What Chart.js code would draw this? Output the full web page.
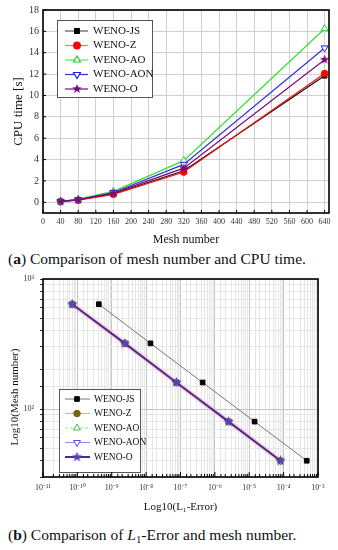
<!DOCTYPE html>
<html><head><meta charset="utf-8">
<script src="https://cdn.jsdelivr.net/npm/chart.js@4/dist/chart.umd.min.js"></script>
<style>
html,body{margin:0;padding:0;background:#fff;}
body{width:338px;height:550px;position:relative;overflow:hidden;font-family:"Liberation Serif",serif;}
canvas{position:absolute;left:0;}
#c1{top:0;}
#c2{top:268px;}
.cap{position:absolute;left:8px;font-size:15.5px;line-height:17px;color:#111;white-space:nowrap;}
.cap sub{font-size:0.7em;line-height:0;vertical-align:-0.3em;}
</style></head><body>
<canvas id="c1" width="338" height="248"></canvas>
<div class="cap" style="top:250px">(<b>a</b>) Comparison of mesh number and CPU time.</div>
<canvas id="c2" width="338" height="250"></canvas>
<div class="cap" style="top:526px">(<b>b</b>) Comparison of <i>L</i><sub>1</sub>-Error and mesh number.</div>
<script>
// ---------- data ----------
const schemes = ["WENO-JS", "WENO-Z", "WENO-AO", "WENO-AON", "WENO-O"];
const meshNumbers = [40, 80, 160, 320, 640];
const cpuJS  = [0.08, 0.22, 0.80, 2.95, 11.85];
const cpuZ   = [0.07, 0.20, 0.75, 2.83, 12.05];
const cpuAO  = [0.10, 0.30, 1.03, 3.90, 16.25];
const cpuAON = [0.09, 0.26, 0.92, 3.55, 14.45];
const cpuO   = [0.08, 0.24, 0.86, 3.20, 13.35];

const meshDesc = [640, 320, 160, 80, 40];
const errJS  = [4.2e-10, 1.34e-8, 4.4e-7, 1.43e-5, 4.7e-4];
const errZ   = [7.1e-11, 2.4e-9, 7.6e-8, 2.5e-6, 8.1e-5];
const errAO  = [7.1e-11, 2.4e-9, 7.6e-8, 2.5e-6, 8.1e-5];
const errAON = [7.1e-11, 2.4e-9, 7.6e-8, 2.5e-6, 8.1e-5];
const errO   = [7.1e-11, 2.4e-9, 7.6e-8, 2.5e-6, 8.1e-5];

const cpuTicks = {min: -1, max: 18, step: 2};
const meshTicks = {min: 0, max: 650, step: 40};
const supDigits = {"0":"⁰","1":"¹","2":"²","3":"³","4":"⁴","5":"⁵","6":"⁶","7":"⁷","8":"⁸","9":"⁹","-":"⁻"};

// ---------- helpers ----------
function starImage(color, size) {
  const c = document.createElement('canvas');
  c.width = size; c.height = size;
  const g = c.getContext('2d');
  const cx = size / 2, cy = size / 2, R = size / 2, r = R * 0.42;
  g.beginPath();
  for (let i = 0; i < 10; i++) {
    const a = -Math.PI / 2 + i * Math.PI / 5;
    const rr = i % 2 ? r : R;
    g.lineTo(cx + rr * Math.cos(a), cy + rr * Math.sin(a));
  }
  g.closePath(); g.fillStyle = color; g.fill();
  return c;
}
const pts = (xs, ys) => xs.map((x, i) => ({x: x, y: ys[i]}));
const isPow10 = v => Math.abs(Math.log10(v) - Math.round(Math.log10(v))) < 1e-6;
const powLabel = v => "10" + String(Math.round(Math.log10(v))).split("").map(ch => supDigits[ch]).join("");
const serif = '"Liberation Serif", "Times New Roman", serif';

const framePlugin = {
  id: 'frame',
  afterDraw(chart, args, o) {
    const a = chart.chartArea, ctx = chart.ctx;
    ctx.save();
    ctx.strokeStyle = '#000'; ctx.lineWidth = 1;
    if (o.innerX) {
      const sx = chart.scales.x;
      sx.ticks.forEach(t => {
        const p = sx.getPixelForValue(t.value);
        const len = o.logX ? (isPow10(t.value) ? 5 : 3) : 3;
        ctx.beginPath(); ctx.moveTo(p, a.bottom); ctx.lineTo(p, a.bottom - len); ctx.stroke();
      });
    }
    if (o.innerY) {
      const sy = chart.scales.y;
      sy.ticks.forEach(t => {
        const p = sy.getPixelForValue(t.value);
        ctx.beginPath(); ctx.moveTo(a.left, p); ctx.lineTo(a.left + 3, p); ctx.stroke();
      });
    }
    ctx.lineWidth = 1.6;
    ctx.strokeRect(a.left, a.top, a.right - a.left, a.bottom - a.top);
    if (o.yTitle) {
      ctx.translate(o.yTitle.x, o.yTitle.y);
      ctx.rotate(-Math.PI / 2);
      ctx.fillStyle = '#111'; ctx.font = o.yTitle.font;
      ctx.textAlign = 'center'; ctx.textBaseline = 'middle';
      ctx.fillText(o.yTitle.text, 0, 0);
    }
    ctx.restore();
  }
};

const boxLegend = {
  id: 'boxLegend',
  afterDatasetsDraw(chart, args, o) {
    const ctx = chart.ctx;
    ctx.save();
    ctx.fillStyle = '#fff'; ctx.fillRect(o.x, o.y, o.w, o.h);
    ctx.strokeStyle = '#555'; ctx.lineWidth = 1; ctx.strokeRect(o.x + 0.5, o.y + 0.5, o.w, o.h);
    chart.data.datasets.forEach((ds, i) => {
      const y = o.y + o.first + i * o.step;
      ctx.strokeStyle = ds.legendLineColor || ds.borderColor;
      ctx.lineWidth = ds.legendLineWidth || ds.borderWidth;
      ctx.setLineDash(ds.borderDash || []);
      ctx.beginPath(); ctx.moveTo(o.x + o.l1, y); ctx.lineTo(o.x + o.l2, y); ctx.stroke();
      ctx.setLineDash([]);
      ctx.fillStyle = ds.pointBackgroundColor; ctx.strokeStyle = ds.pointBorderColor;
      Chart.helpers.drawPoint(ctx, {pointStyle: ds.pointStyle, rotation: ds.pointRotation || 0,
        radius: ds.pointRadius, borderWidth: ds.pointBorderWidth || 1}, o.x + o.mk, y);
      ctx.fillStyle = '#111'; ctx.font = o.font; ctx.textBaseline = 'middle'; ctx.textAlign = 'left';
      ctx.fillText(ds.label, o.x + o.tx, y);
    });
    ctx.restore();
  }
};

// ---------- chart (a) ----------
const starTop = starImage('#7a0a7a', 10);
new Chart(document.getElementById('c1'), {
  type: 'scatter',
  data: {
    datasets: [
      {label: schemes[0], data: pts(meshNumbers, cpuJS), borderColor: '#111', legendLineColor: '#555', pointBackgroundColor: '#000', pointBorderColor: '#000', pointStyle: 'rect', pointRadius: 3.3, order: 5},
      {label: schemes[1], data: pts(meshNumbers, cpuZ), borderColor: '#f01010', legendLineColor: '#ff7070', pointBackgroundColor: '#ff0000', pointBorderColor: '#ff0000', pointStyle: 'circle', pointRadius: 3.3, order: 4},
      {label: schemes[2], data: pts(meshNumbers, cpuAO), borderColor: '#30e030', legendLineColor: '#50ee50', pointBackgroundColor: '#fff', pointBorderColor: '#20d020', pointStyle: 'triangle', pointRadius: 4, order: 3},
      {label: schemes[3], data: pts(meshNumbers, cpuAON), borderColor: '#3030e0', pointBackgroundColor: '#fff', pointBorderColor: '#2020e0', pointStyle: 'triangle', pointRotation: 180, pointRadius: 4, order: 2},
      {label: schemes[4], data: pts(meshNumbers, cpuO), borderColor: '#7a0a7a', pointBackgroundColor: '#7a0a7a', pointBorderColor: '#7a0a7a', pointStyle: starTop, pointRadius: 5, order: 1}
    ].map(d => Object.assign({showLine: true, borderWidth: 1.2, pointBorderWidth: 1, pointHoverRadius: 5}, d))
  },
  options: {
    responsive: false, animation: false,
    layout: {padding: {top: 10, right: 9, left: 0, bottom: 0}},
    plugins: {
      legend: {display: false}, tooltip: {enabled: false},
      frame: {innerX: true, innerY: true},
      boxLegend: {x: 57, y: 20, w: 95, h: 77, first: 11, step: 14.5, l1: 8, l2: 31, mk: 20, tx: 36, font: '11px ' + serif}
    },
    scales: {
      x: {
        type: 'linear', min: meshTicks.min, max: meshTicks.max,
        ticks: {stepSize: meshTicks.step, includeBounds: false, autoSkip: false, maxRotation: 0, padding: 4,
          font: {family: serif, size: 8}, color: '#333'},
        grid: {color: '#cfcfcf', lineWidth: 1, drawTicks: false},
        border: {display: false},
        title: {display: true, text: 'Mesh number', font: {family: serif, size: 12}, color: '#111', padding: {top: 0, bottom: 1}},
        afterFit(s) { s.height = 35; s.paddingLeft = 0; s.paddingRight = 0; }
      },
      y: {
        type: 'linear', min: cpuTicks.min, max: cpuTicks.max,
        ticks: {stepSize: cpuTicks.step, includeBounds: false, autoSkip: false, padding: 4,
          font: {family: serif, size: 10}, color: '#333'},
        grid: {color: '#cfcfcf', lineWidth: 1, drawTicks: false},
        border: {display: false},
        title: {display: true, text: 'CPU time [s]', font: {family: serif, size: 13}, color: '#111', padding: {top: 11, bottom: 0}},
        afterFit(s) { s.width = 43; s.paddingTop = 0; s.paddingBottom = 0; }
      }
    }
  },
  plugins: [framePlugin, boxLegend]
});

// ---------- chart (b) ----------
const starBot = starImage('#5a3fb0', 11);
new Chart(document.getElementById('c2'), {
  type: 'scatter',
  data: {
    datasets: [
      {label: schemes[0], data: pts(errJS, meshDesc), borderColor: '#777', borderWidth: 1, pointBackgroundColor: '#000', pointBorderColor: '#000', pointStyle: 'rect', pointRadius: 3.3, order: 0},
      {label: schemes[1], data: pts(errZ, meshDesc), borderColor: 'rgba(255,175,195,0.55)', borderWidth: 5, legendLineColor: '#f4a0a0', legendLineWidth: 1, pointBackgroundColor: '#8b5a14', pointBorderColor: '#8b5a14', pointStyle: 'circle', pointRadius: 3.3, order: 4},
      {label: schemes[2], data: pts(errAO, meshDesc), borderColor: '#90e890', borderWidth: 1, borderDash: [3, 2], pointBackgroundColor: '#fff', pointBorderColor: '#40c040', pointStyle: 'triangle', pointRadius: 4, order: 3},
      {label: schemes[3], data: pts(errAON, meshDesc), borderColor: '#8c8cf0', borderWidth: 1, pointBackgroundColor: '#fff', pointBorderColor: '#5050e0', pointStyle: 'triangle', pointRotation: 180, pointRadius: 4, order: 2},
      {label: schemes[4], data: pts(errO, meshDesc), borderColor: '#4a2a8a', borderWidth: 2, pointBackgroundColor: '#5a3fb0', pointBorderColor: '#5a3fb0', pointStyle: starBot, pointRadius: 5, order: 1}
    ].map(d => Object.assign({showLine: true, pointBorderWidth: 1, pointHoverRadius: 5}, d))
  },
  options: {
    responsive: false, animation: false,
    layout: {padding: {top: 11, right: 20, left: 0, bottom: 0}},
    plugins: {
      legend: {display: false}, tooltip: {enabled: false},
      frame: {innerX: true, logX: true,
        yTitle: {text: 'Log10(Mesh number)', x: 15, y: 129, font: '11px ' + serif}},
      boxLegend: {x: 59, y: 121, w: 81, h: 83, first: 10, step: 14.5, l1: 6, l2: 31, mk: 18, tx: 35, font: '9.5px ' + serif}
    },
    scales: {
      x: {
        type: 'logarithmic', min: 1e-11, max: 1e-3,
        ticks: {autoSkip: false, maxRotation: 0, padding: 6, font: {family: serif, size: 8}, color: '#333',
          callback: v => isPow10(v) ? powLabel(v) : ''},
        grid: {color: c => isPow10(c.tick.value) ? '#c4c4c4' : '#e6e6e6', lineWidth: 1, drawTicks: false},
        border: {display: false},
        title: {display: true, text: 'Log10(L₁-Error)', font: {family: serif, size: 11}, color: '#111', padding: {top: 0, bottom: 4}},
        afterFit(s) { s.height = 41; s.paddingLeft = 0; s.paddingRight = 0; }
      },
      y: {
        type: 'logarithmic', min: 30, max: 1000,
        ticks: {autoSkip: false, padding: 6, font: {family: serif, size: 8}, color: '#333',
          callback: v => isPow10(v) ? powLabel(v) : ''},
        grid: {color: c => isPow10(c.tick.value) ? '#c4c4c4' : '#e6e6e6', lineWidth: 1, drawTicks: true, tickLength: 3, tickColor: '#333'},
        border: {display: false},
        title: {display: false},
        afterFit(s) { s.width = 43; s.paddingTop = 0; s.paddingBottom = 0; }
      }
    }
  },
  plugins: [framePlugin, boxLegend]
});
</script>
</body></html>
